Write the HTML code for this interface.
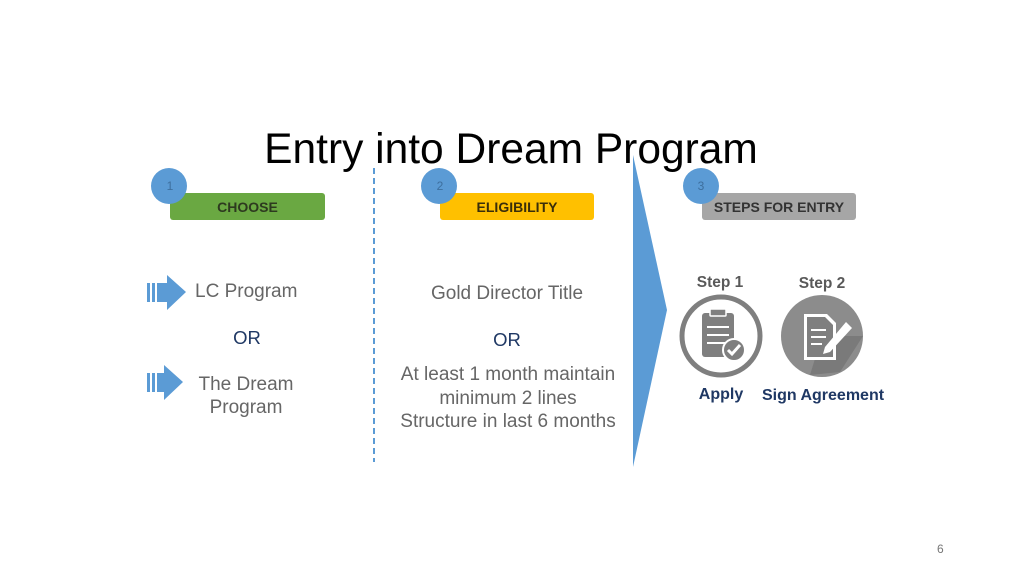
<!DOCTYPE html>
<html><head><style>
body{margin:0;width:1024px;height:576px;background:#fff;position:relative;overflow:hidden;font-family:"Liberation Sans",sans-serif}
.t{position:absolute;white-space:nowrap}
</style></head><body>
<svg width="1024" height="576" style="position:absolute;left:0;top:0">
<rect x="170" y="193" width="155" height="27" rx="3" fill="#6aa842"/>
<rect x="440" y="193" width="154" height="27" rx="3" fill="#ffc000"/>
<rect x="702" y="193" width="154" height="27" rx="3" fill="#a6a6a6"/>
<circle cx="169" cy="186" r="18" fill="#5b9bd5"/>
<circle cx="439" cy="186" r="18" fill="#5b9bd5"/>
<circle cx="701" cy="186" r="18" fill="#5b9bd5"/>
<line x1="374" y1="168" x2="374" y2="462" stroke="#5b9bd5" stroke-width="2" stroke-dasharray="6,4"/>
<polygon points="633,155 667,310 633,467" fill="#5b9bd5"/>
<g fill="#5b9bd5">
<rect x="147" y="283" width="3" height="19"/><rect x="152" y="283" width="3" height="19"/>
<polygon points="157,283 167,283 167,275 186,292 167,310 167,302 157,302"/>
<rect x="147" y="373" width="3" height="19"/><rect x="152" y="373" width="3" height="19"/>
<polygon points="157,373 164,373 164,365 183,382 164,400 164,392 157,392"/>
</g>
<circle cx="721" cy="336" r="39" fill="none" stroke="#7f7f7f" stroke-width="5"/>
<rect x="702" y="313" width="32" height="44" rx="3" fill="#7f7f7f"/>
<rect x="710" y="309" width="16" height="7" rx="1" fill="#7f7f7f" stroke="#fff" stroke-width="1.5"/>
<g stroke="#fff" stroke-width="2"><line x1="707" y1="327" x2="729" y2="327"/><line x1="707" y1="335" x2="729" y2="335"/><line x1="707" y1="343" x2="729" y2="343"/></g>
<circle cx="734" cy="350" r="11" fill="#7f7f7f" stroke="#fff" stroke-width="2"/>
<polyline points="728,350 732,354 740,345" fill="none" stroke="#fff" stroke-width="3"/>
<circle cx="822" cy="336" r="41" fill="#8c8c8c"/>
<polygon points="822,336 863,336 840,372 810,375" fill="#7a7a7a"/>
<polygon points="804,314 827,314 836,323 836,360 804,360" fill="#fff"/>
<polygon points="807,317 825,317 833,325 833,357 807,357" fill="#7f7f7f"/>
<g stroke="#fff" stroke-width="2"><line x1="811" y1="330" x2="826" y2="330"/><line x1="811" y1="337" x2="826" y2="337"/><line x1="811" y1="344" x2="822" y2="344"/></g>
<polygon points="846,322 852,328 830,352 823,354 825,347" fill="#fff"/>
</svg>
<div class="t" style="left:0;width:1022px;text-align:center;top:126px;font-size:42.5px;color:#000">Entry into Dream Program</div>
<div class="t" style="left:160px;width:20px;text-align:center;top:179px;font-size:12px;color:#3d6f9e">1</div>
<div class="t" style="left:430px;width:20px;text-align:center;top:179px;font-size:12px;color:#3d6f9e">2</div>
<div class="t" style="left:691px;width:20px;text-align:center;top:179px;font-size:12px;color:#3d6f9e">3</div>
<div class="t" style="left:170px;width:155px;text-align:center;top:199px;font-size:14px;font-weight:bold;color:#2d3a1f">CHOOSE</div>
<div class="t" style="left:440px;width:154px;text-align:center;top:199px;font-size:14px;font-weight:bold;color:#3a2e0a">ELIGIBILITY</div>
<div class="t" style="left:702px;width:154px;text-align:center;top:199px;font-size:14px;font-weight:bold;color:#333">STEPS FOR ENTRY</div>
<div class="t" style="left:195px;top:281px;font-size:19px;color:#666">LC Program</div>
<div class="t" style="left:197px;width:100px;text-align:center;top:327px;font-size:18.5px;color:#1f3864">OR</div>
<div class="t" style="left:186px;width:120px;text-align:center;top:373px;font-size:19px;color:#666;line-height:23px;white-space:normal">The Dream Program</div>
<div class="t" style="left:380px;width:254px;text-align:center;top:283px;font-size:19px;color:#666">Gold Director Title</div>
<div class="t" style="left:380px;width:254px;text-align:center;top:329px;font-size:18.5px;color:#1f3864">OR</div>
<div class="t" style="left:381px;width:254px;text-align:center;top:363px;font-size:19px;color:#666;line-height:23.5px">At least 1 month maintain<br>minimum 2 lines<br>Structure in last 6 months</div>
<div class="t" style="left:680px;width:80px;text-align:center;top:274px;font-size:15.5px;font-weight:bold;color:#595959">Step 1</div>
<div class="t" style="left:782px;width:80px;text-align:center;top:275px;font-size:15.5px;font-weight:bold;color:#595959">Step 2</div>
<div class="t" style="left:681px;width:80px;text-align:center;top:386px;font-size:16px;font-weight:bold;color:#1f3864">Apply</div>
<div class="t" style="left:753px;width:140px;text-align:center;top:387px;font-size:16px;font-weight:bold;color:#1f3864">Sign Agreement</div>
<div class="t" style="left:937px;top:542px;font-size:12px;color:#777">6</div>
</body></html>
